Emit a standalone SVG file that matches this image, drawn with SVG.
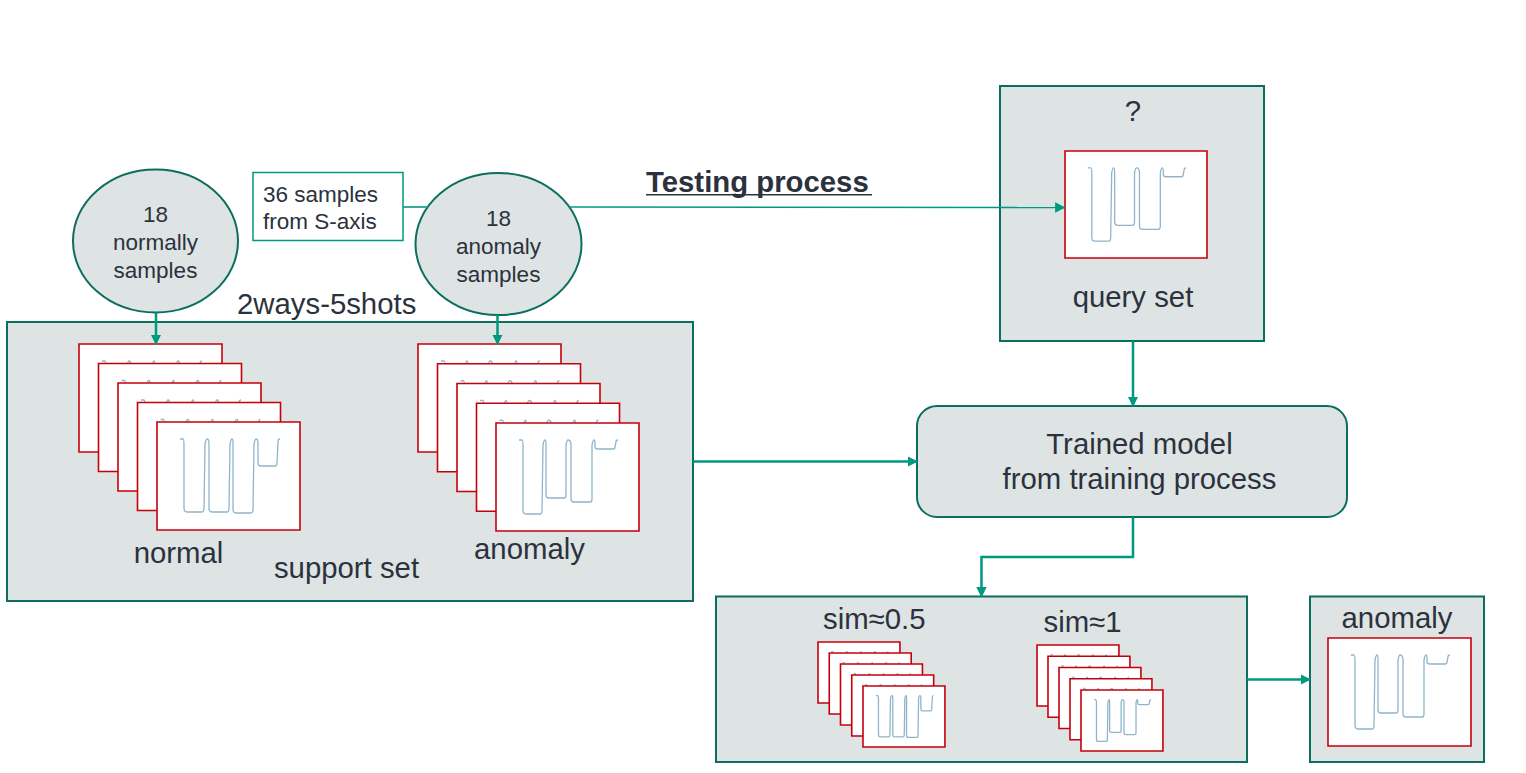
<svg xmlns="http://www.w3.org/2000/svg" xmlns:xlink="http://www.w3.org/1999/xlink" width="1526" height="773" viewBox="0 0 1526 773">
<style>
.box{fill:#dee3e3;stroke:#0b6e5f;stroke-width:2}
.card{fill:#ffffff;stroke:#c5000b;stroke-width:1.6;vector-effect:non-scaling-stroke}
.wave{fill:none;stroke:#8fb5cc;stroke-width:1.3;vector-effect:non-scaling-stroke}
.t{font-family:"Liberation Sans",Arial,sans-serif;fill:#2c323d}
.big{font-size:29.33px}
.sm{font-size:22.5px}
.mid{text-anchor:middle}
.conn{fill:none;stroke:#009980;stroke-width:2.5}
.thin{fill:none;stroke:#009980;stroke-width:1.6}
</style>
<defs>
<marker id="ah" viewBox="0 0 10 10" refX="9" refY="5" markerWidth="4.2" markerHeight="4.2" orient="auto" markerUnits="strokeWidth">
<path d="M0,0 L10,5 L0,10 Z" fill="#009980"/>
</marker>
<marker id="ahs" viewBox="0 0 10 10" refX="9" refY="5" markerWidth="6.5" markerHeight="6.5" orient="auto" markerUnits="strokeWidth">
<path d="M0,0 L10,5 L0,10 Z" fill="#009980"/>
</marker>
<g id="cardA">
<rect class="card" x="0" y="0" width="143" height="108"/>
<path class="wave" d="M23,17 H26 Q27,17 27,24 V86 Q27,90 30,90 H45 Q47,90 47,86 L48,22 Q49,17 50,17 Q52,17 52,22 V86 Q52,90 55,90 H70 Q72,90 72,86 L73,22 Q74,17 75,17 Q76,17 76,22 V87 Q76,91 79,91 H94 Q96,91 96,87 L97,22 Q98,17 99,17 Q101,17 101,22 V41 Q101,44 104,44 H118 Q120,44 120,41 L121,20 Q121,17 123,17"/>
</g>
<g id="cardB">
<rect class="card" x="0" y="0" width="143" height="108"/>
<path class="wave" d="M23,17 H26 Q27,17 27,24 V87 Q27,91 30,91 H44 Q46,91 46,87 L47,22 Q48,17 49,17 Q50,17 50,22 V72 Q50,75 53,75 H68 Q70,75 70,72 L70,22 Q71,17 72,17 Q75,17 75,22 V76 Q75,79 78,79 H94 Q96,79 96,76 L96,22 Q97,17 98,17 Q99,17 99,21 V24 Q99,26 102,26 H117 Q119,26 119,24 L120,19 Q120,17 122,17"/>
</g>
</defs>

<rect x="0" y="0" width="1526" height="773" fill="#ffffff"/>

<g id="normal-samples">
<ellipse class="box" cx="155.5" cy="241" rx="82.5" ry="71.5"/>
<text class="t sm mid" x="155.5" y="222">18</text>
<text class="t sm mid" x="155.5" y="250">normally</text>
<text class="t sm mid" x="155.5" y="278">samples</text>
</g>

<g id="samples-note">
<rect x="253" y="172.5" width="150" height="68" fill="#ffffff" stroke="#009980" stroke-width="1.5"/>
<text class="t sm" x="263" y="202">36 samples</text>
<text class="t sm" x="263" y="229">from S-axis</text>
</g>

<g id="anomaly-samples">
<ellipse class="box" cx="498.5" cy="244" rx="83" ry="71"/>
<text class="t sm mid" x="498.5" y="226">18</text>
<text class="t sm mid" x="498.5" y="254">anomaly</text>
<text class="t sm mid" x="498.5" y="282">samples</text>
</g>

<g id="testing-label">
<text class="t big" x="646" y="191.5" font-weight="bold">Testing process</text>
<line x1="646" y1="194.8" x2="872" y2="194.8" stroke="#2c323d" stroke-width="1.6"/>
</g>

<g id="ways-label">
<text class="t big" x="237" y="314">2ways-5shots</text>
</g>

<g id="support-set">
<rect class="box" x="7" y="322" width="686" height="279"/>
<use xlink:href="#cardA" x="79" y="344"/>
<use xlink:href="#cardA" x="98.5" y="363.5"/>
<use xlink:href="#cardA" x="118" y="383"/>
<use xlink:href="#cardA" x="137.5" y="402.5"/>
<use xlink:href="#cardA" x="157" y="422"/>
<use xlink:href="#cardB" x="418" y="344"/>
<use xlink:href="#cardB" x="437.5" y="363.75"/>
<use xlink:href="#cardB" x="457" y="383.5"/>
<use xlink:href="#cardB" x="476.5" y="403.25"/>
<use xlink:href="#cardB" x="496" y="423"/>
<text class="t big mid" x="178.5" y="563">normal</text>
<text class="t big mid" x="529.5" y="559">anomaly</text>
<text class="t big mid" x="346.5" y="578">support set</text>
</g>

<g id="query-set">
<rect class="box" x="1000" y="86" width="264" height="255"/>
<text class="t big mid" x="1133" y="120.5">?</text>
<use xlink:href="#cardB" transform="translate(1065,151) scale(0.993,0.991)"/>
<text class="t big mid" x="1133" y="307">query set</text>
</g>

<g id="trained-model">
<rect class="box" x="917" y="406" width="430" height="111" rx="20" ry="20"/>
<text class="t big mid" x="1139.5" y="454">Trained model</text>
<text class="t big mid" x="1139.5" y="489">from training process</text>
</g>

<g id="similarity">
<rect class="box" x="716" y="596.5" width="531" height="165.5"/>
<text class="t big" x="823" y="629">sim≈0.5</text>
<text class="t big" x="1043.5" y="632">sim≈1</text>
<use xlink:href="#cardA" transform="translate(818,642) scale(0.573,0.565)"/>
<use xlink:href="#cardA" transform="translate(829.25,653) scale(0.573,0.565)"/>
<use xlink:href="#cardA" transform="translate(840.5,664) scale(0.573,0.565)"/>
<use xlink:href="#cardA" transform="translate(851.75,675) scale(0.573,0.565)"/>
<use xlink:href="#cardA" transform="translate(863,686) scale(0.573,0.565)"/>
<use xlink:href="#cardB" transform="translate(1037,645) scale(0.573,0.565)"/>
<use xlink:href="#cardB" transform="translate(1048,656.25) scale(0.573,0.565)"/>
<use xlink:href="#cardB" transform="translate(1059,667.5) scale(0.573,0.565)"/>
<use xlink:href="#cardB" transform="translate(1070,678.75) scale(0.573,0.565)"/>
<use xlink:href="#cardB" transform="translate(1081,690) scale(0.573,0.565)"/>
</g>

<g id="result">
<rect class="box" x="1310" y="596.5" width="174" height="165.5"/>
<text class="t big mid" x="1397" y="628">anomaly</text>
<use xlink:href="#cardB" x="1328" y="638"/>
</g>

<g id="connectors">
<line class="thin" x1="403" y1="207" x2="428" y2="207"/>
<line class="thin" x1="569.5" y1="207" x2="1064.5" y2="207.5" marker-end="url(#ahs)"/>
<line class="conn" x1="156" y1="312.5" x2="156" y2="344" marker-end="url(#ah)"/>
<line class="conn" x1="497.5" y1="315" x2="497.5" y2="344" marker-end="url(#ah)"/>
<line class="conn" x1="693" y1="461.5" x2="917" y2="461.5" marker-end="url(#ah)"/>
<line class="conn" x1="1133" y1="341" x2="1133" y2="406" marker-end="url(#ah)"/>
<polyline class="conn" points="1133,517 1133,557 981.5,557 981.5,596.5" marker-end="url(#ah)"/>
<line class="conn" x1="1247" y1="679.5" x2="1310" y2="679.5" marker-end="url(#ah)"/>
</g>
</svg>
